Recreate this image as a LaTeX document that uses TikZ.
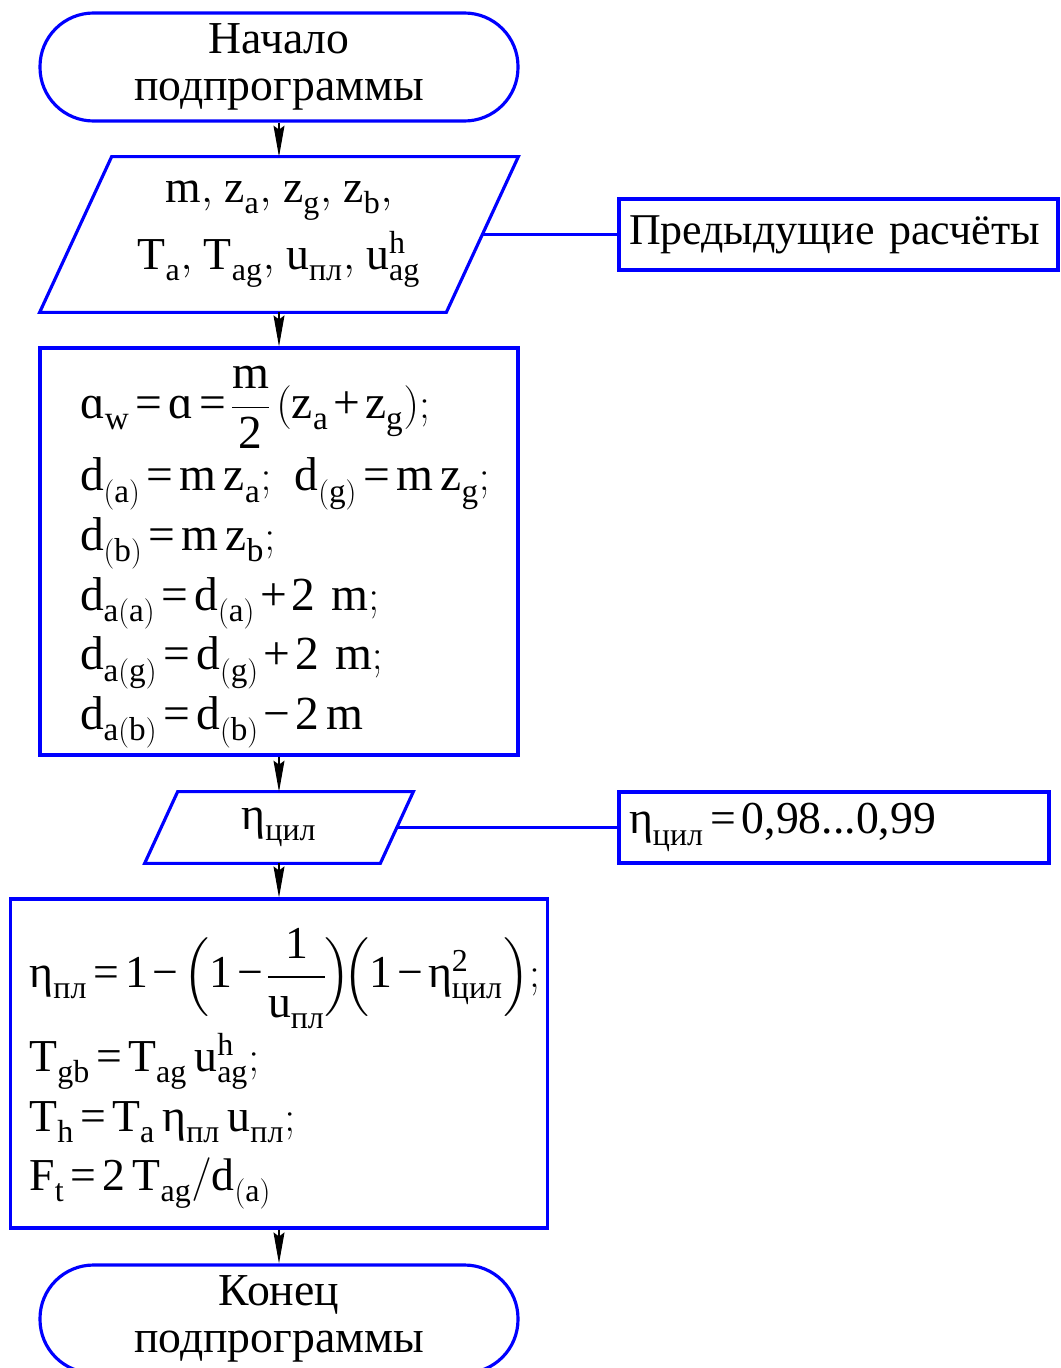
\documentclass[tikz,border=0pt]{standalone}
\usepackage{amsmath}
\usepackage{fontspec}
\setmainfont{Liberation Serif}
\usetikzlibrary{arrows.meta}

\newcommand{\bigfont}{\fontsize{26}{27}\selectfont}
\newcommand{\etaup}{\text{η}}
\newcommand{\alw}{\text{ɑ}}
\thickmuskip=2.5mu
\medmuskip=2mu
\nulldelimiterspace=0pt
\everymath{\fontdimen16\textfont2=0.24em}
\AtBeginDocument{%
  \Umathcode`\= = 3 \symoperators `\=
  \Umathcode`\+ = 2 \symoperators `\+
  \Umathcode`\- = 2 \symoperators "2212
}

\tikzset{
  term/.style={draw=blue, line width=1.8pt, rounded corners=1.07cm, minimum width=9.56cm, minimum height=2.16cm, align=center, font=\bigfont},
  io/.style={align=center},
  iobox/.style={draw=blue, line width=1.8pt},
  proc/.style={draw=blue, line width=1.8pt, align=left},
  note/.style={draw=blue, line width=1.8pt, minimum height=1.42cm, inner xsep=0.2cm, align=left},
  flow/.style={-{Stealth[length=0.62cm,width=0.22cm,inset=0.08cm]}, line width=0.6pt},
  link/.style={blue, line width=1.8pt},
}

\begin{document}
\begin{tikzpicture}
    \useasboundingbox (0,0) rectangle (21.22,-27.36);
    \clip (0,0) rectangle (21.22,-27.36);
    % Draw terminals
    \node[term] (start) at (5.58,-1.34) {Начало\\подпрограммы};
    \node[term] (stop) at (5.58,-26.38) {Конец\\подпрограммы};
    % Draw input blocks (parallelograms round the nodes)
    \node[io, minimum width=8.12cm, minimum height=3.10cm, font=\fontsize{26}{38}\selectfont] (input) at (5.58,-4.69)
        {$\mathrm{m{,}\ z_a{,}\ z_g{,}\ z_b{,}}$\\$\mathrm{T_a{,}\ T_{ag}{,}\ u_{\text{пл}}{,}\ u^h_{ag}}$};
    \draw[iobox] ([xshift=0.72cm]input.north west) -- ([xshift=0.72cm]input.north east)
        -- ([xshift=-0.72cm]input.south east) -- ([xshift=-0.72cm]input.south west) -- cycle;
    \node[io, minimum width=4.70cm, minimum height=1.42cm, font=\bigfont] (etain) at (5.58,-16.55)
        {$\etaup_{\text{цил}}$};
    \draw[iobox] ([xshift=0.33cm]etain.north west) -- ([xshift=0.33cm]etain.north east)
        -- ([xshift=-0.33cm]etain.south east) -- ([xshift=-0.33cm]etain.south west) -- cycle;
    % Draw comments
    \node[note, text width=8.38cm, font=\fontsize{25}{27}\selectfont] (prev) at (16.77,-4.69) {Предыдущие расчёты};
    \node[note, text width=8.2cm, font=\bigfont] (etanote) at (16.68,-16.55)
        {$\etaup_{\text{цил}} = \text{0,98...0,99}$};
    % Draw process blocks
    \node[proc, minimum width=9.56cm, minimum height=8.14cm, inner xsep=0.8cm, text width=7.96cm, font=\fontsize{27}{34}\selectfont] (geom) at (5.58,-11.03)
        {\rule{0pt}{1.28cm}$\mathrm{\alw_w = \alw = \dfrac{m}{2}\,(z_a + z_g);}$\\[0.15cm]
         $\mathrm{d_{(a)} = m\,z_a;\ d_{(g)} = m\,z_g;}$\\
         $\mathrm{d_{(b)} = m\,z_b;}$\\
         $\mathrm{d_{a(a)} = d_{(a)} + 2\ m;}$\\
         $\mathrm{d_{a(g)} = d_{(g)} + 2\ m;}$\\
         $\mathrm{d_{a(b)} = d_{(b)} - 2\,m}$};
    \node[proc, minimum width=10.74cm, minimum height=6.58cm, inner xsep=0.38cm, text width=9.98cm, font=\fontsize{26}{34}\selectfont] (force) at (5.58,-21.27)
        {\rule{0pt}{1.4cm}$\mathrm{\etaup_{\text{пл}} = 1 - \Bigl(1 - \dfrac{1}{u_{\text{пл}}}\Bigr)\!\Bigl(1 - \etaup^2_{\text{цил}}\Bigr);}$\\[0.05cm]
         $\mathrm{T_{gb} = T_{ag}\,u^h_{ag};}$\\
         $\mathrm{T_h = T_a\,\etaup_{\text{пл}}\,u_{\text{пл}};}$\\
         $\mathrm{F_t = 2\,T_{ag}/d_{(a)}}$};
    % Draw connectors
    \draw[flow] (start) -- (input);
    \draw[flow] (input) -- (geom);
    \draw[flow] (geom) -- (etain);
    \draw[flow] (etain) -- (force);
    \draw[flow] (force) -- (stop);
    \draw[link] (input) -- (prev);
    \draw[link] (etain) -- (etanote);
\end{tikzpicture}
\end{document}
